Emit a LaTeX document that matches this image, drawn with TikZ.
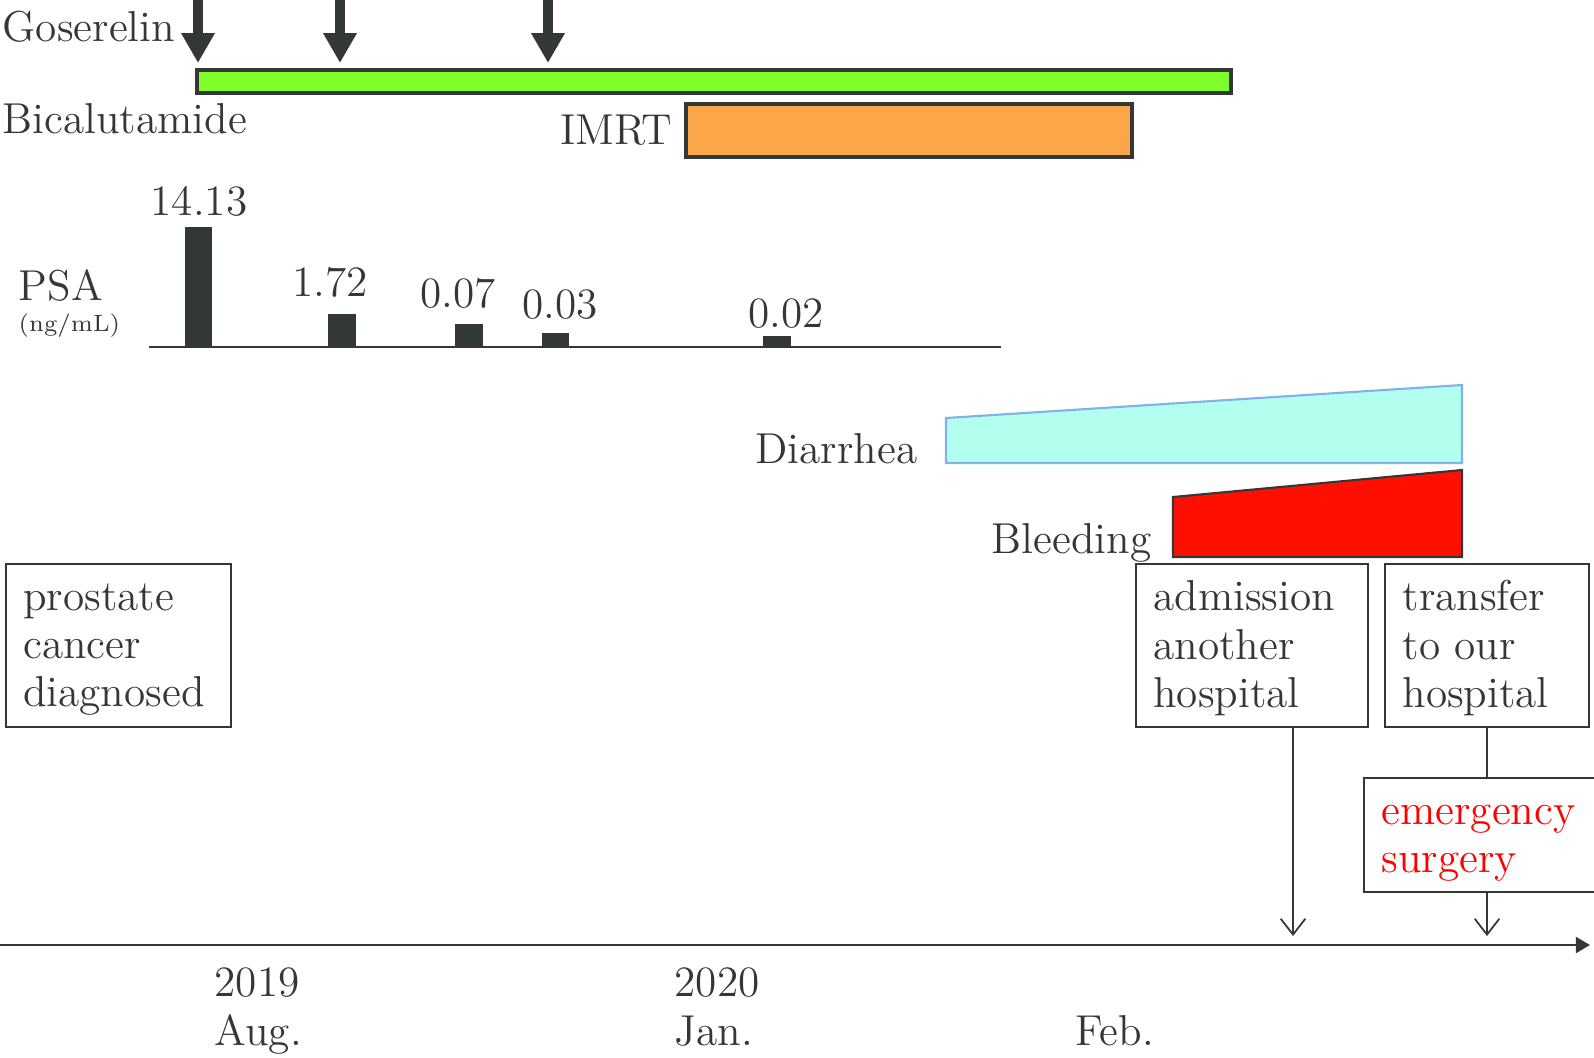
\documentclass[tikz,border=0pt]{standalone}
\usepackage{fontspec}
\usepackage{tikz}
\usetikzlibrary{arrows.meta, positioning}
\definecolor{inkgray}{RGB}{51,55,55}
\definecolor{bicafill}{RGB}{127,255,42}
\definecolor{imrtfill}{RGB}{252,166,74}
\definecolor{diarfill}{RGB}{179,255,239}
\definecolor{diaredge}{RGB}{127,179,230}
\definecolor{bleedfill}{RGB}{255,15,0}
\definecolor{surgred}{RGB}{255,0,0}
\newcommand{\tlfont}{\fontsize{12.3}{13.7}\selectfont}
\tikzstyle{evbox} = [rectangle, draw=inkgray, line width=0.6pt, align=left,
  inner xsep=4.9pt, inner ysep=2pt, minimum height=1.63cm, font=\tlfont, text=inkgray,
  execute at begin node={\rule{0pt}{10pt}}]
\tikzstyle{lab} = [inner sep=0pt, font=\tlfont, text=inkgray]
\tikzstyle{gosarrow} = [inkgray, line width=2.6pt, -{Triangle[length=8.5pt, width=9pt]}]
\tikzstyle{tick} = [inkgray, line width=0.5pt, -{Straight Barb[length=4.5pt, width=7pt]}]
\tikzstyle{timeline} = [inkgray, line width=0.7pt, -{Triangle[length=4pt, width=4.5pt]}]

\begin{document}
\begin{tikzpicture}[x=0.01cm, y=-0.01cm]
    \useasboundingbox (0,0) rectangle (1594,1057);
    % treatment
    \node[lab, anchor=base west] (gos) at (2,41) {Goserelin};
    \coordinate (gtop1) at (198,-5);
    \coordinate (gtip1) at (198,63);
    \coordinate (gtop2) at (340,-5);
    \coordinate (gtip2) at (340,63);
    \coordinate (gtop3) at (548,-5);
    \coordinate (gtip3) at (548,63);
    \draw[gosarrow] (gtop1) -- (gtip1);
    \draw[gosarrow] (gtop2) -- (gtip2);
    \draw[gosarrow] (gtop3) -- (gtip3);
    \draw[inkgray, line width=1.2pt, fill=bicafill] (197,70) rectangle (1231,93);
    \node[lab, anchor=base west] (bica) at (2,133) {Bicalutamide};
    \node[lab, anchor=base east] (imrt) at (673,144) {IMRT};
    \draw[inkgray, line width=1.2pt, fill=imrtfill] (686,104) rectangle (1132,157);
    % PSA
    \node[lab, anchor=base west] (psa) at (18,300) {PSA};
    \node[lab, anchor=base west, font=\fontsize{6.7}{8}\selectfont] (unit) at (18,331) {(ng/mL)};
    \draw[inkgray, line width=0.5pt] (149,347) -- (1001,347);
    \fill[inkgray] (185,227) rectangle (212,347);
    \fill[inkgray] (328,314) rectangle (356,347);
    \fill[inkgray] (455,324) rectangle (483,347);
    \fill[inkgray] (542,333) rectangle (569,347);
    \fill[inkgray] (763,336) rectangle (791,347);
    \node[lab, anchor=base] (v1) at (199,215) {14.13};
    \node[lab, anchor=base] (v2) at (330,296) {1.72};
    \node[lab, anchor=base] (v3) at (458,307) {0.07};
    \node[lab, anchor=base] (v4) at (560,318) {0.03};
    \node[lab, anchor=base] (v5) at (786,327) {0.02};
    % adverse events
    \draw[diaredge, line width=0.6pt, fill=diarfill] (946,418) -- (1462,385) -- (1462,463) -- (946,463) -- cycle;
    \node[lab, anchor=base east] (diar) at (918,463) {Diarrhea};
    \draw[inkgray, line width=0.6pt, fill=bleedfill] (1173,497) -- (1462,470) -- (1462,557) -- (1173,557) -- cycle;
    \node[lab, anchor=base east] (bleed) at (1152,553) {Bleeding};
    % events
    \node[evbox, text width=54.2pt, anchor=north west] (diag) at (5,563) {prostate\\cancer\\diagnosed};
    \node[evbox, text width=56.2pt, anchor=north west] (adm) at (1135,563) {admission\\another\\hospital};
    \node[evbox, text width=48.2pt, right=0.15cm of adm] (trans) {transfer\\to our\\hospital};
    \node[evbox, text width=56.2pt, minimum height=1.14cm, text=surgred, below=0.49cm of trans, xshift=-0.07cm] (surg) {emergency\\surgery};
    \coordinate (admtip) at (1293,936);
    \coordinate (surgtip) at (1487,936);
    \draw[tick] (adm.south -| admtip) -- (admtip);
    \draw[inkgray, line width=0.5pt] (trans.south) -- (surg.north -| trans.south);
    \draw[tick] (surg.south -| surgtip) -- (surgtip);
    % time axis
    \coordinate (t0) at (0,945);
    \coordinate (t1) at (1590,945);
    \draw[timeline] (t0) -- (t1);
    \node[lab, anchor=base west] (y19) at (214,996) {2019};
    \node[lab, anchor=base west] (aug) at (214,1045) {Aug.};
    \node[lab, anchor=base west] (y20) at (674,996) {2020};
    \node[lab, anchor=base west] (jan) at (674,1045) {Jan.};
    \node[lab, anchor=base west] (feb) at (1075,1045) {Feb.};
\end{tikzpicture}
\end{document}
